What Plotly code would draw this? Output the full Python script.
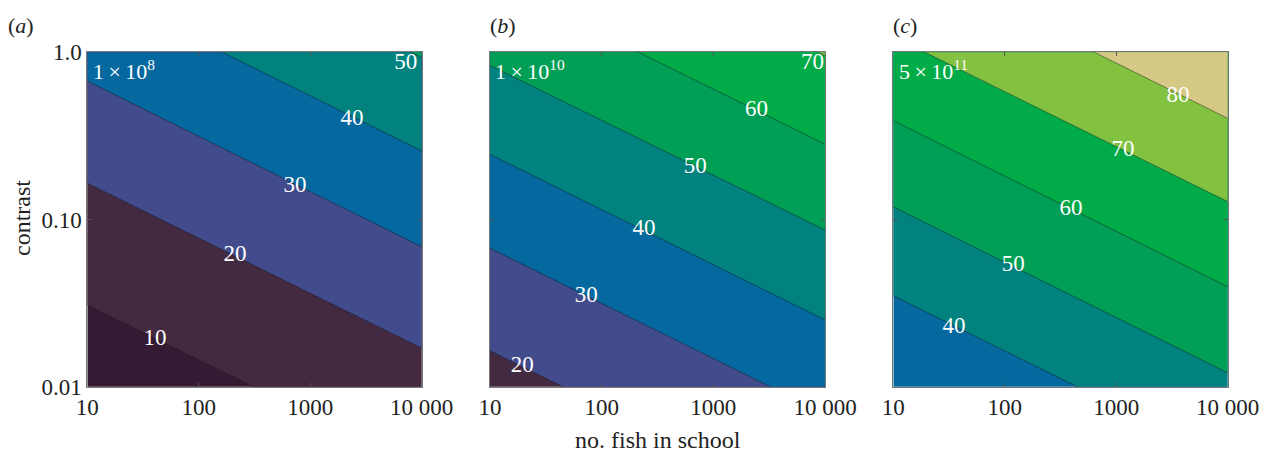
import plotly.graph_objects as go

# ---------------- data ----------------
x_tickvals = [10, 100, 1000, 10000]
x_ticktext = ["10", "100", "1000", "10 000"]
y_tickvals = [0.01, 0.1, 1.0]
y_ticktext = ["0.01", "0.10", "1.0"]

# contour levels; contrast of each contour line at N=10 (left) and N=10000 (right)
levels_a = [10, 20, 30, 40, 50]
left_a = [0.0308, 0.165, 0.673, 2.52, 9.1]
right_a = [0.00319, 0.0170, 0.0686, 0.257, 0.93]
label_n_a = [40.4, 211, 730, 2366, 7210]
label_c_a = [0.0193, 0.0614, 0.158, 0.399, 0.863]

levels_b = [20, 30, 40, 50, 60, 70]
left_b = [0.0164, 0.0673, 0.245, 0.835, 2.75, 9.3]
right_b = [0.00168, 0.00689, 0.0251, 0.0865, 0.282, 0.955]
label_n_b = [19.4, 72.6, 240, 690, 2432, 7730]
label_c_b = [0.0133, 0.0348, 0.0877, 0.206, 0.452, 0.863]

levels_c = [40, 50, 60, 70, 80]
left_c = [0.035, 0.119, 0.390, 1.24, 3.95]
right_c = [0.00358, 0.0121, 0.0396, 0.128, 0.403]
label_n_c = [35, 119, 393, 1148, 3581]
label_c_c = [0.0227, 0.0535, 0.1156, 0.261, 0.548]

corner_labels = ["1\u2009\u00d7\u200910<sup>8</sup>", "1\u2009\u00d7\u200910<sup>10</sup>",
                 "5\u2009\u00d7\u200910<sup>11</sup>"]
panel_letters = ["(<i>a</i>)", "(<i>b</i>)", "(<i>c</i>)"]

# band colours: key = lower bound of the band
band_colors = {
    0: "#351A33",
    10: "#432A41",
    20: "#424C8C",
    30: "#05689E",
    40: "#02827F",
    50: "#019E56",
    60: "#01AC48",
    70: "#83C141",
    80: "#D5C985",
}

FONT = "Liberation Serif"
W, H = 1263, 452
y_top, y_bot = 52.3, 386.7
x_doms = [(87.3, 421.7), (490.0, 825.0), (893.3, 1227.7)]

panels = [
    (levels_a, left_a, right_a, label_n_a, label_c_a),
    (levels_b, left_b, right_b, label_n_b, label_c_b),
    (levels_c, left_c, right_c, label_n_c, label_c_c),
]

fig = go.Figure()
annotations = []

for i, (levels, left, right, ln, lc) in enumerate(panels):
    xa = "x" if i == 0 else f"x{i+1}"
    ya = "y" if i == 0 else f"y{i+1}"
    # background band (below first level)
    fig.add_trace(go.Scatter(
        x=[10, 10000, 10000, 10, 10], y=[1e-4, 1e-4, 1e2, 1e2, 1e-4],
        fill="toself", fillcolor=band_colors[levels[0] - 10], mode="none",
        xaxis=xa, yaxis=ya, showlegend=False, hoverinfo="skip"))
    for lev, cl, cr in zip(levels, left, right):
        fig.add_trace(go.Scatter(
            x=[10, 10000, 10000, 10, 10], y=[cl, cr, 1e2, 1e2, cl],
            fill="toself", fillcolor=band_colors[lev], mode="none",
            xaxis=xa, yaxis=ya, showlegend=False, hoverinfo="skip"))
    for lev, cl, cr in zip(levels, left, right):
        fig.add_trace(go.Scatter(
            x=[10, 10000], y=[cl, cr], mode="lines",
            line=dict(color="rgba(20,20,30,0.55)", width=0.8),
            xaxis=xa, yaxis=ya, showlegend=False, hoverinfo="skip"))
    fig.add_trace(go.Scatter(
        x=ln, y=lc, mode="text", text=[str(v) for v in levels],
        textfont=dict(family=FONT, size=23, color="white"),
        textposition="middle center",
        xaxis=xa, yaxis=ya, showlegend=False, hoverinfo="skip"))

    x0, x1 = x_doms[i]
    annotations.append(dict(
        text=corner_labels[i], xref=f"{xa} domain", yref=f"{ya} domain",
        x=0.01, y=0.947, xanchor="left", yanchor="middle", showarrow=False,
        font=dict(family=FONT, size=22, color="white")))
    annotations.append(dict(
        text=panel_letters[i], xref="paper", yref="paper",
        x=(6 if i == 0 else x0 - 2) / W, y=1 - 25 / H,
        xanchor="left", yanchor="middle", showarrow=False,
        font=dict(family=FONT, size=22, color="#222")))

annotations.append(dict(
    text="contrast", xref="paper", yref="paper", x=22 / W, y=1 - 218 / H,
    xanchor="center", yanchor="middle", textangle=-90, showarrow=False,
    font=dict(family=FONT, size=24, color="#222")))
annotations.append(dict(
    text="no. fish in school", xref="paper", yref="paper", x=657.5 / W, y=1 - 440 / H,
    xanchor="center", yanchor="middle", showarrow=False,
    font=dict(family=FONT, size=24, color="#222")))

layout = dict(
    width=W, height=H,
    margin=dict(l=0, r=0, t=0, b=0),
    paper_bgcolor="white", plot_bgcolor="white",
    annotations=annotations,
    font=dict(family=FONT, size=23, color="#222"),
)
axis_common = dict(
    type="log", showgrid=False, zeroline=False, ticks="inside", ticklen=4,
    tickcolor="#555", showline=True, linecolor="#777", linewidth=0.8, mirror="ticks",
    tickfont=dict(family=FONT, size=23, color="#222"), automargin=False,
)
for i in range(3):
    x0, x1 = x_doms[i]
    xk = "xaxis" if i == 0 else f"xaxis{i+1}"
    yk = "yaxis" if i == 0 else f"yaxis{i+1}"
    ax_id = "" if i == 0 else str(i + 1)
    layout[xk] = dict(axis_common, domain=[x0 / W, x1 / W], range=[1, 4],
                      tickvals=x_tickvals, ticktext=x_ticktext,
                      anchor="y" + ax_id)
    layout[yk] = dict(axis_common, domain=[1 - y_bot / H, 1 - y_top / H], range=[-2, 0],
                      tickvals=y_tickvals, ticktext=y_ticktext,
                      showticklabels=(i == 0), anchor="x" + ax_id)

fig.update_layout(**layout)
fig.write_html("out.html", config={"displayModeBar": False},
               post_script="document.body.style.margin='0';document.body.style.overflow='hidden';")
